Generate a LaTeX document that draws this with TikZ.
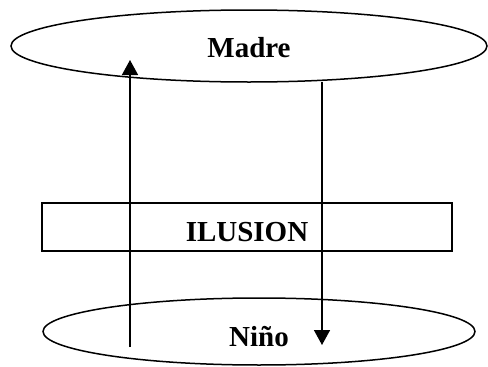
\documentclass[tikz,border=0pt]{standalone}
\usepackage{fontspec}
\setmainfont{Liberation Serif}
\usepackage{tikz}
\usetikzlibrary{shapes.geometric,arrows.meta}

\tikzset{
    bubble/.style={draw, ellipse, line width=1.5pt, inner sep=0pt},
    band/.style={draw, rectangle, line width=1.2pt, inner sep=0pt},
    word/.style={font=\fontsize{29}{34}\selectfont\bfseries, inner sep=0pt},
    flow/.style={line width=1.6pt, -{Triangle[length=15pt,width=16pt]}}
}

\begin{document}
\begin{tikzpicture}[x=1pt,y=-1pt]
    \useasboundingbox (0,0) rectangle (488,367);
    \node[bubble, minimum width=476pt, minimum height=72pt] (madre) at (249,46) {};
    \node[band, minimum width=410pt, minimum height=48pt] (ilusion) at (247,227) {};
    \node[bubble, minimum width=432pt, minimum height=67pt] (nino) at (259,331.5) {};
    \node[word] (madretext) at ([yshift=-2pt]madre.center) {Madre};
    \node[word] (ilusiontext) at ([yshift=-5pt]ilusion.center) {ILUSION};
    \node[word] (ninotext) at ([yshift=-5pt]nino.center) {Niño};
    \coordinate (upfoot) at (130,347);
    \coordinate (uptip) at (130,60);
    \coordinate (downtop) at (322,82);
    \coordinate (downtip) at (322,345);
    \draw[flow] (upfoot) -- (uptip);
    \draw[flow] (downtop) -- (downtip);
\end{tikzpicture}
\end{document}
